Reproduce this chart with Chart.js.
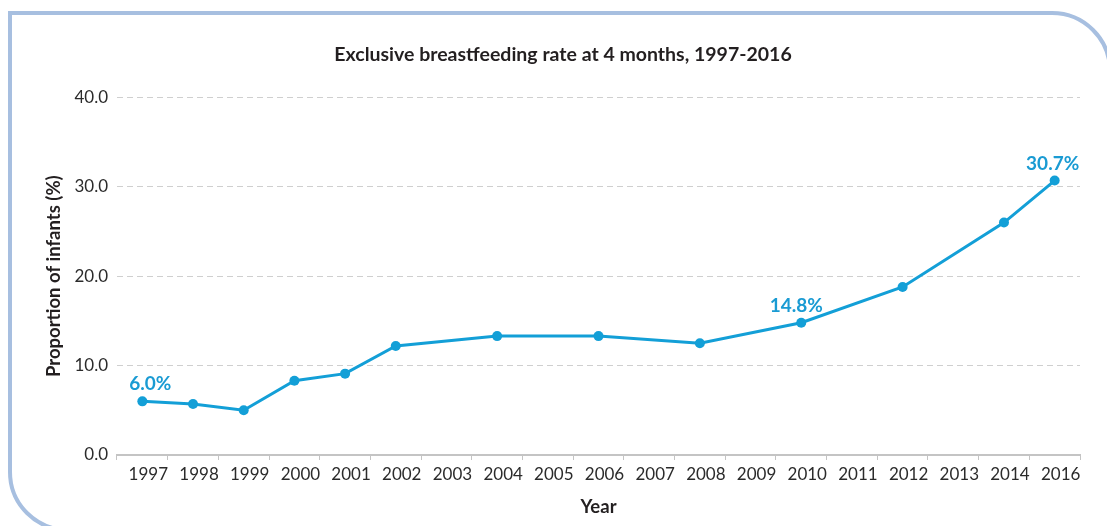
<!DOCTYPE html>
<html>
<head>
<meta charset="utf-8">
<script src="https://cdn.jsdelivr.net/npm/chart.js@4.4.1/dist/chart.umd.min.js"></script>
<style>
  html, body { margin: 0; padding: 0; background: #fff; overflow: hidden; }
  #wrap { position: relative; width: 1107px; height: 526px; overflow: hidden; }
  #frame {
    position: absolute; left: 8px; top: 11px; width: 1096px; height: 513px;
    border: 4px solid #a7bfe0; border-radius: 0 60px 0 60px;
  }
  #chart { position: absolute; left: 0; top: 0; }
</style>
</head>
<body>
<div id="wrap">
  <div id="frame"></div>
  <canvas id="chart" width="1107" height="526"></canvas>
</div>
<script>
// categories (no 2015 on the original axis)
const years = ['1997', '1998', '1999', '2000', '2001', '2002', '2003', '2004', '2005', '2006',
               '2007', '2008', '2009', '2010', '2011', '2012', '2013', '2014', '2016'];
// exclusive breastfeeding rate at 4 months (%), null = no survey that year
const rates = [6.0, 5.7, 5.0, 8.3, 9.1, 12.2, null, 13.3, null, 13.3,
               null, 12.5, null, 14.8, null, 18.8, null, 26.0, 30.7];
// points that carry a value label
const labelledYears = ['1997', '2010', '2016'];
const yTicks = [0, 10, 20, 30, 40];

const blue = '#139fd7';
const labelBlue = '#1a9bd3';
const axisGrey = '#c4c4c4';
const textDark = '#2b2b2b';

// value labels above selected points
const pointLabels = {
    id: 'pointLabels',
    afterDatasetsDraw(chart) {
        const ctx = chart.ctx;
        const meta = chart.getDatasetMeta(0);
        const shift = { '1997': 8, '2010': -5, '2016': -2 };
        ctx.save();
        ctx.font = 'bold 19px Lato';
        ctx.fillStyle = labelBlue;
        ctx.textAlign = 'center';
        ctx.textBaseline = 'middle';
        labelledYears.forEach(year => {
            const i = years.indexOf(year);
            const pt = meta.data[i];
            ctx.fillText(rates[i].toFixed(1) + '%', pt.x + shift[year], pt.y - 17);
        });
        ctx.restore();
    }
};

new Chart(document.getElementById('chart'), {
    type: 'line',
    data: {
        labels: years,
        datasets: [{
            data: rates,
            borderColor: blue,
            backgroundColor: blue,
            borderWidth: 3,
            pointRadius: 5,
            pointBorderWidth: 0,
            pointBackgroundColor: blue,
            spanGaps: true,
            tension: 0
        }]
    },
    options: {
        responsive: false,
        animation: false,
        // left padding also centres the title over the plot like the original
        layout: { padding: { left: 46, right: 27, top: 0, bottom: 0 } },
        plugins: {
            legend: { display: false },
            tooltip: { enabled: false },
            title: {
                display: true,
                text: 'Exclusive breastfeeding rate at 4 months, 1997-2016',
                color: '#231f20',
                font: { family: 'Lato', size: 19.5, weight: 'bold' },
                padding: { top: 43, bottom: 31 }
            }
        },
        scales: {
            x: {
                offset: true,
                grid: {
                    display: true,
                    offset: true,
                    drawOnChartArea: false,
                    drawTicks: true,
                    tickLength: 5,
                    color: axisGrey,
                    tickColor: axisGrey
                },
                border: { display: true, color: axisGrey, width: 2 },
                ticks: {
                    color: textDark,
                    font: { family: 'Lato', size: 17 },
                    padding: 4,
                    labelOffset: 6,
                    maxRotation: 0,
                    autoSkip: false
                },
                title: {
                    display: true,
                    text: 'Year',
                    color: '#231f20',
                    font: { family: 'Lato', size: 18.5, weight: 'bold' },
                    padding: { top: 0, bottom: 8 }
                },
                afterFit: (scale) => { scale.height = 71; }
            },
            y: {
                min: 0,
                max: 40,
                afterBuildTicks: (scale) => { scale.ticks = yTicks.map(v => ({ value: v })); },
                grid: {
                    drawTicks: false,
                    color: (c) => c.tick && c.tick.value === 0 ? 'rgba(0,0,0,0)' : '#cfcfcf',
                    lineWidth: 1
                },
                border: { display: false, dash: [6, 4] },
                ticks: {
                    color: textDark,
                    font: { family: 'Lato', size: 17 },
                    padding: 9,
                    callback: (v) => Number(v).toFixed(1)
                },
                title: {
                    display: true,
                    text: 'Proportion of infants (%)',
                    color: '#231f20',
                    font: { family: 'Lato', size: 18.5, weight: 'bold' },
                    padding: { top: -3, bottom: 0 }
                },
                afterFit: (scale) => { scale.width = 71; }
            }
        }
    },
    plugins: [pointLabels]
});
</script>
</body>
</html>
